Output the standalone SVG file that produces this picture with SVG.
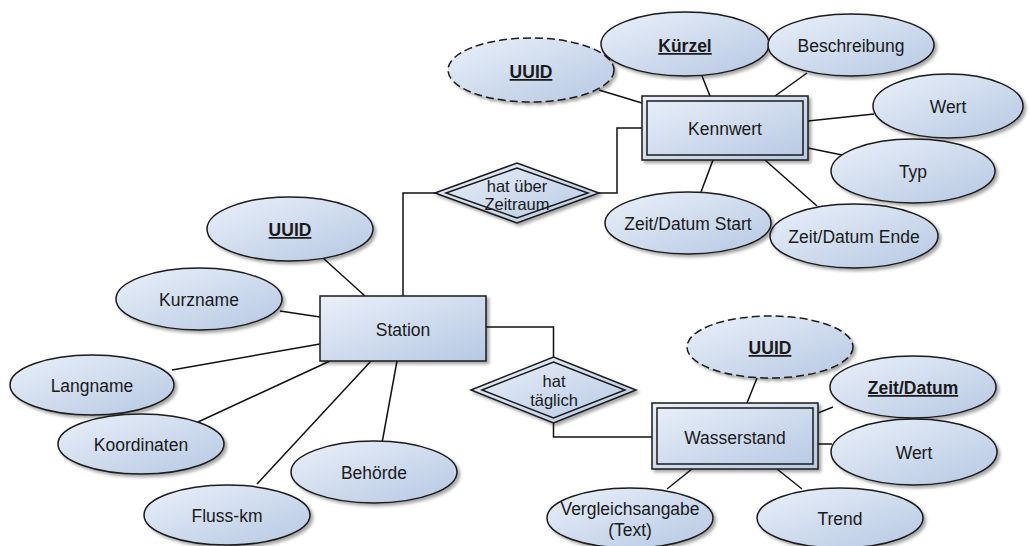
<svg xmlns="http://www.w3.org/2000/svg" width="1030" height="546" viewBox="0 0 1030 546">
  <defs>
    <linearGradient id="fillGrad" x1="0" y1="0" x2="1" y2="1">
      <stop offset="0" stop-color="#eaf0f9"/>
      <stop offset="1" stop-color="#b6c8e3"/>
    </linearGradient>
    <filter id="shadow" x="-10%" y="-10%" width="125%" height="130%">
      <feDropShadow dx="2.5" dy="2.5" stdDeviation="1.6" flood-color="#000" flood-opacity="0.35"/>
    </filter>
    <style>
      .shape { fill: url(#fillGrad); stroke: #1a1a1a; stroke-width: 1.5; filter: url(#shadow); }
      .inner { fill: none; stroke: #1a1a1a; stroke-width: 1.5; }
      .weak { stroke-dasharray: 8 4; }
      .conn { fill: none; stroke: #111; stroke-width: 1.5; }
      text { font-family: "Liberation Sans", Arial, sans-serif; font-size: 17.5px; fill: #1a1a1a; text-anchor: middle; }
      .key { font-weight: bold; text-decoration: underline; }
      .rel { font-size: 16.5px; }
    </style>
  </defs>

  <!-- connectors -->
  <g id="connectors">
    <!-- Station attributes -->
    <line class="conn" x1="323" y1="258" x2="365" y2="296"/>
    <line class="conn" x1="280" y1="311" x2="320" y2="317"/>
    <line class="conn" x1="172" y1="370" x2="320" y2="344"/>
    <line class="conn" x1="198" y1="422" x2="330" y2="361"/>
    <line class="conn" x1="257" y1="484" x2="371" y2="361"/>
    <line class="conn" x1="382" y1="443" x2="397" y2="361"/>
    <!-- Kennwert attributes -->
    <line class="conn" x1="599" y1="90" x2="642" y2="103"/>
    <line class="conn" x1="702" y1="76" x2="710" y2="96"/>
    <line class="conn" x1="807" y1="73" x2="775" y2="96"/>
    <line class="conn" x1="808" y1="121" x2="874" y2="114"/>
    <line class="conn" x1="808" y1="148" x2="842" y2="155"/>
    <line class="conn" x1="765" y1="160" x2="817" y2="206"/>
    <line class="conn" x1="713" y1="160" x2="701" y2="192"/>
    <!-- Wasserstand attributes -->
    <line class="conn" x1="757" y1="378" x2="747" y2="403"/>
    <line class="conn" x1="818" y1="413" x2="833" y2="407"/>
    <line class="conn" x1="818" y1="444" x2="832" y2="444"/>
    <line class="conn" x1="692" y1="469" x2="667" y2="489"/>
    <line class="conn" x1="777" y1="469" x2="802" y2="489"/>
    <!-- relationships -->
    <polyline class="conn" points="403,296 403,193 435,193"/>
    <polyline class="conn" points="599,193 617,193 617,128 642,128"/>
    <polyline class="conn" points="486,327 553.5,327 553.5,357"/>
    <polyline class="conn" points="553.5,423 553.5,437 652,437"/>
  </g>

  <!-- entity: Station -->
  <g id="station">
    <rect class="shape" x="320" y="296" width="166" height="65"/>
    <text x="403" y="336">Station</text>
  </g>

  <!-- weak entity: Kennwert -->
  <g id="kennwert">
    <rect class="shape" x="642" y="96" width="166" height="64"/>
    <rect class="inner" x="647" y="101" width="156" height="54"/>
    <text x="725" y="135">Kennwert</text>
  </g>

  <!-- weak entity: Wasserstand -->
  <g id="wasserstand">
    <rect class="shape" x="652" y="403" width="166" height="66"/>
    <rect class="inner" x="657" y="408" width="156" height="56"/>
    <text x="735" y="444">Wasserstand</text>
  </g>

  <!-- identifying relationships -->
  <g id="rel-zeitraum">
    <polygon class="shape" points="435,193 517,163 599,193 517,223"/>
    <polygon class="inner" points="446,193 517,168 588,193 517,218"/>
    <text class="rel" x="517" y="192">hat über</text>
    <text class="rel" x="517" y="210">Zeitraum</text>
  </g>
  <g id="rel-taeglich">
    <polygon class="shape" points="471,390 553.5,357 636,390 553.5,423"/>
    <polygon class="inner" points="482,390 553.5,362 625,390 553.5,418"/>
    <text class="rel" x="554" y="387">hat</text>
    <text class="rel" x="554" y="406">täglich</text>
  </g>

  <!-- Station attributes -->
  <g id="station-uuid">
    <ellipse class="shape" cx="290" cy="229" rx="83" ry="32"/>
    <text class="key" x="290" y="236">UUID</text>
  </g>
  <g id="station-kurzname">
    <ellipse class="shape" cx="199" cy="299" rx="83" ry="31"/>
    <text x="199" y="306">Kurzname</text>
  </g>
  <g id="station-langname">
    <ellipse class="shape" cx="92" cy="385" rx="82" ry="30"/>
    <text x="92" y="392">Langname</text>
  </g>
  <g id="station-koordinaten">
    <ellipse class="shape" cx="141" cy="444" rx="83" ry="30"/>
    <text x="141" y="451">Koordinaten</text>
  </g>
  <g id="station-flusskm">
    <ellipse class="shape" cx="227" cy="515" rx="83" ry="30"/>
    <text x="227" y="522">Fluss-km</text>
  </g>
  <g id="station-behoerde">
    <ellipse class="shape" cx="374" cy="472" rx="83" ry="31"/>
    <text x="374" y="479">Behörde</text>
  </g>

  <!-- Kennwert attributes -->
  <g id="kennwert-uuid">
    <ellipse class="shape weak" cx="531" cy="70" rx="83" ry="32"/>
    <text class="key" x="531" y="78">UUID</text>
  </g>
  <g id="kennwert-kuerzel">
    <ellipse class="shape" cx="685" cy="44" rx="84" ry="32"/>
    <text class="key" x="685" y="52">Kürzel</text>
  </g>
  <g id="kennwert-beschreibung">
    <ellipse class="shape" cx="851" cy="45" rx="83" ry="31"/>
    <text x="851" y="52">Beschreibung</text>
  </g>
  <g id="kennwert-wert">
    <ellipse class="shape" cx="948" cy="106" rx="75" ry="32"/>
    <text x="948" y="113">Wert</text>
  </g>
  <g id="kennwert-typ">
    <ellipse class="shape" cx="913" cy="171" rx="82" ry="32"/>
    <text x="913" y="178">Typ</text>
  </g>
  <g id="kennwert-ende">
    <ellipse class="shape" cx="854" cy="236" rx="84" ry="32"/>
    <text x="854" y="243">Zeit/Datum Ende</text>
  </g>
  <g id="kennwert-start">
    <ellipse class="shape" cx="688" cy="223" rx="83" ry="31"/>
    <text x="688" y="230">Zeit/Datum Start</text>
  </g>

  <!-- Wasserstand attributes -->
  <g id="wasserstand-uuid">
    <ellipse class="shape weak" cx="770" cy="347" rx="83" ry="31"/>
    <text class="key" x="770" y="354">UUID</text>
  </g>
  <g id="wasserstand-zeitdatum">
    <ellipse class="shape" cx="913" cy="387" rx="83" ry="31"/>
    <text class="key" x="913" y="394">Zeit/Datum</text>
  </g>
  <g id="wasserstand-wert">
    <ellipse class="shape" cx="914" cy="452" rx="83" ry="33"/>
    <text x="914" y="459">Wert</text>
  </g>
  <g id="wasserstand-trend">
    <ellipse class="shape" cx="840" cy="518" rx="83" ry="30"/>
    <text x="840" y="525">Trend</text>
  </g>
  <g id="wasserstand-vergleich">
    <ellipse class="shape" cx="630" cy="518" rx="83" ry="30"/>
    <text x="630" y="515">Vergleichsangabe</text>
    <text x="630" y="536">(Text)</text>
  </g>
</svg>
